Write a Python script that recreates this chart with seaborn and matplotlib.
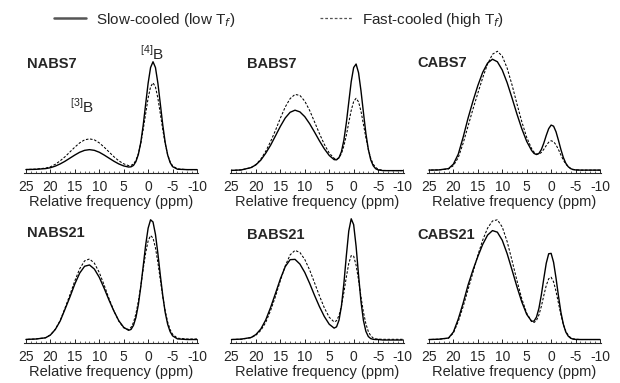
import matplotlib
matplotlib.use("Agg")
import matplotlib.pyplot as plt
import seaborn as sns
from matplotlib.lines import Line2D
from matplotlib.ticker import MultipleLocator

# chemical shift grid (ppm) and intensities (arbitrary units)
ppm = [25, 23, 21, 20, 19, 18, 17, 16, 15, 14, 13, 12, 11, 10, 9, 8, 7, 6, 5, 4,
       3.5, 3, 2.5, 2, 1.5, 1, 0.5, 0, -0.5, -1, -1.5, -2, -2.5, -3, -3.5, -4,
       -4.5, -5, -6, -8, -10]

nabs7_slow = [3.6, 3.8, 4.5, 5.4, 7.0, 9.2, 11.9, 15.0, 18.1, 20.9, 22.8, 23.5, 22.8, 20.9, 18.1, 15.0, 11.9, 9.2, 7.2, 6.1,
              6.3, 7.7, 11.5, 18.7, 30.8, 48.3, 69.3, 90.0, 105.7, 111.5, 105.7, 89.9, 69.1, 48.0, 30.4, 18.1, 10.6, 6.5, 3.9, 3.5, 3.5]
nabs7_fast = [3.6, 4.0, 5.0, 6.3, 8.8, 12.3, 16.4, 21.2, 26.0, 30.3, 33.3, 34.3, 33.3, 30.3, 26.0, 21.2, 16.4, 12.3, 9.3, 7.5,
              7.7, 9.2, 12.8, 19.4, 29.9, 43.8, 59.6, 75.1, 86.4, 90.4, 86.2, 74.9, 59.3, 43.3, 29.2, 18.4, 11.4, 7.3, 4.2, 3.5, 3.5]
babs7_slow = [2.7, 3.2, 5.5, 8.3, 13.0, 19.9, 27.9, 37.3, 46.8, 55.2, 60.9, 63.0, 61.3, 56.5, 49.4, 41.0, 32.3, 24.3, 17.7, 13.5,
              13.3, 15.5, 21.5, 33.0, 50.2, 71.0, 91.6, 105.7, 109.2, 100.5, 82.4, 60.7, 39.8, 23.8, 13.2, 7.4, 4.4, 3.2, 2.5, 2.5, 2.5]
babs7_fast = [2.7, 3.2, 5.5, 8.6, 14.0, 21.8, 31.6, 42.8, 55.0, 66.2, 74.6, 78.8, 77.8, 72.0, 62.7, 51.2, 39.5, 28.8, 20.1, 14.8,
              14.1, 15.3, 19.5, 27.2, 37.8, 50.5, 62.8, 71.7, 74.9, 71.3, 61.9, 48.9, 35.5, 23.8, 14.8, 9.0, 5.7, 3.9, 2.7, 2.5, 2.5]
cabs7_slow = [3.0, 3.2, 4.5, 9.0, 19.0, 36.0, 55.0, 72.0, 87.6, 100.9, 110.2, 114.0, 111.5, 103.2, 90.5, 75.2, 59.2, 44.4, 31.8, 22.7,
              19.7, 18.6, 19.7, 23.6, 30.0, 37.7, 44.5, 48.1, 47.0, 41.4, 32.8, 23.6, 15.6, 9.9, 6.4, 4.5, 3.5, 3.2, 3.0, 3.0, 3.0]
cabs7_fast = [3.0, 3.2, 4.2, 7.5, 15.5, 30.0, 47.0, 64.0, 80.0, 95.5, 109.3, 119.0, 122.0, 117.1, 105.1, 88.3, 69.4, 51.4, 35.8, 24.6,
              21.0, 19.1, 19.0, 20.7, 23.8, 27.6, 30.9, 32.4, 31.5, 28.3, 23.6, 18.1, 13.1, 9.1, 6.3, 4.7, 3.8, 3.3, 3.0, 3.0, 3.0]
nabs21_slow = [3.6, 4.0, 5.2, 8.0, 13.5, 22.0, 33.9, 46.1, 59.1, 70.0, 76.8, 78.1, 74.0, 65.8, 54.8, 42.9, 31.9, 22.3, 15.7, 12.7,
               13.6, 17.6, 25.5, 38.4, 56.4, 77.2, 98.2, 114.9, 123.3, 121.1, 108.7, 89.4, 67.6, 47.3, 30.4, 18.7, 11.4, 7.2, 4.1, 3.5, 3.5]
nabs21_fast = [3.6, 4.0, 5.3, 8.0, 13.8, 22.5, 35.1, 48.3, 62.2, 74.3, 82.2, 84.1, 79.9, 70.6, 58.0, 44.4, 32.1, 21.9, 15.2, 13.5,
               15.6, 20.6, 29.3, 41.8, 57.1, 74.2, 90.2, 102.2, 107.5, 105.1, 95.2, 80.4, 63.1, 46.2, 31.9, 21.0, 13.4, 8.8, 4.8, 4.0, 4.0]
babs21_slow = [3.5, 3.9, 5.5, 8.5, 14.0, 23.0, 35.5, 49.6, 64.1, 76.4, 83.4, 83.7, 79.0, 70.6, 59.6, 47.6, 36.4, 26.5, 18.8, 14.9,
               16.2, 22.8, 36.9, 59.6, 87.2, 112.1, 124.3, 118.4, 96.7, 68.0, 41.5, 22.6, 11.7, 6.5, 4.4, 3.7, 3.5, 3.5, 3.0, 3.0, 3.0]
babs21_fast = [3.5, 3.8, 5.3, 7.8, 12.6, 20.5, 32.5, 46.5, 62.4, 77.2, 88.2, 92.7, 90.6, 83.6, 73.0, 60.2, 47.2, 35.2, 25.8, 21.1,
               22.3, 27.6, 37.1, 50.6, 66.0, 79.6, 87.5, 86.9, 77.9, 63.0, 46.1, 30.9, 19.3, 11.5, 7.2, 5.0, 4.1, 3.9, 3.7, 3.7, 3.7]
cabs21_slow = [3.5, 3.8, 5.0, 11.0, 24.0, 40.0, 58.0, 73.0, 86.5, 98.7, 108.0, 112.5, 110.9, 102.8, 89.4, 73.1, 56.4, 41.1, 28.7, 21.8,
               21.9, 25.9, 34.6, 48.2, 64.5, 79.8, 89.3, 89.7, 80.8, 65.0, 47.1, 30.8, 18.8, 11.0, 6.9, 4.8, 3.9, 3.6, 3.5, 3.5, 3.5]
cabs21_fast = [3.5, 3.8, 4.8, 10.0, 21.5, 36.5, 53.5, 70.5, 87.9, 103.0, 115.0, 122.1, 123.3, 116.1, 101.5, 82.5, 62.6, 44.2, 29.9, 21.5,
               20.5, 22.6, 28.1, 36.7, 47.5, 57.5, 64.3, 65.8, 61.2, 51.7, 39.9, 28.2, 18.5, 11.8, 7.7, 5.3, 4.2, 3.8, 3.5, 3.5, 3.5]

names = ["NABS7", "BABS7", "CABS7", "NABS21", "BABS21", "CABS21"]
slow = [nabs7_slow, babs7_slow, cabs7_slow, nabs21_slow, babs21_slow, cabs21_slow]
fast = [nabs7_fast, babs7_fast, cabs7_fast, nabs21_fast, babs21_fast, cabs21_fast]

sns.set_style("white")
plt.rcParams["font.family"] = ["Liberation Sans", "DejaVu Sans"]
plt.rcParams["axes.unicode_minus"] = False

fig = plt.figure(figsize=(6.2, 3.83), dpi=100)

lefts = [0.0395, 0.371, 0.6895]
bottoms = [0.548, 0.1044]
heights = [0.326, 0.334]
tops = [125, 128]
title_pos = [(0.015, 0.876), (0.097, 0.876), (-0.06, 0.884),
             (0.014, 0.86), (0.097, 0.844), (-0.06, 0.844)]

for i, name in enumerate(names):
    r, c = divmod(i, 3)
    ax = fig.add_axes([lefts[c], bottoms[r], 0.2806, heights[r]])
    sns.lineplot(x=ppm, y=slow[i], ax=ax, color="black", linewidth=1.0,
                 estimator=None)
    sns.lineplot(x=ppm, y=fast[i], ax=ax, color="black", linewidth=0.75,
                 linestyle=(0, (2.4, 1.6)), estimator=None)
    ax.set_xlim(25.3, -10.3)
    ax.set_ylim(0, tops[r])
    ax.set_yticks([])
    sns.despine(ax=ax, left=True)
    ax.spines["bottom"].set_linewidth(0.8)
    ax.xaxis.set_major_locator(MultipleLocator(5))
    ax.xaxis.set_minor_locator(MultipleLocator(1))
    ax.tick_params(axis="x", which="major", direction="in", length=3, width=0.7,
                   labelsize=10, pad=5, bottom=True)
    ax.tick_params(axis="x", which="minor", direction="in", length=1.8, width=0.5,
                   bottom=True)
    ax.set_xlabel("Relative frequency (ppm)", fontsize=10.5, labelpad=1)
    ax.set_ylabel("")
    ax.text(title_pos[i][0], title_pos[i][1], name, transform=ax.transAxes,
            fontsize=10.5, fontweight="bold", va="center", ha="left")
    if i == 0:
        ax.text(13.5, 67, r"$^{\mathregular{[3]}}$B", fontsize=11,
                ha="center", va="center")
        ax.text(-0.8, 120, r"$^{\mathregular{[4]}}$B", fontsize=11,
                ha="center", va="center", clip_on=False)

handles = [Line2D([], [], color="#555555", linewidth=1.8),
           Line2D([], [], color="#555555", linewidth=0.9, linestyle=(0, (2.2, 1.6)))]
labels = [r"Slow-cooled (low T$_{\mathregular{\mathit{f}}}$)",
          r"Fast-cooled (high T$_{\mathregular{\mathit{f}}}$)"]
fig.legend(handles, labels, loc="center", bbox_to_anchor=(0.45, 0.949), ncol=2,
           frameon=False, fontsize=11, handlelength=2.1, handletextpad=0.65,
           columnspacing=5.5)

fig.savefig("out.png", dpi=100)
